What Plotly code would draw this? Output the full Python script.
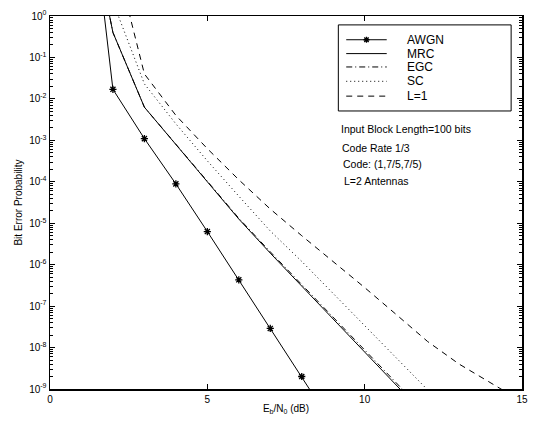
import plotly.graph_objects as go

# ---- data ----
awgn_x = [1.5, 2, 3, 4, 5, 6, 7, 8, 9]
awgn_y = [30, 1.7e-2, 1.1e-3, 8.9e-5, 6.3e-6, 4.3e-7, 2.9e-8, 2.0e-9, 1.3e-10]

mrc_x = [1.5, 2, 3, 4, 5, 6, 7, 8, 9, 10, 11, 12]
mrc_y = [30, 0.4, 6.3e-3, 7.9e-4, 1.0e-4, 1.26e-5, 1.9e-6, 3.0e-7, 4.8e-8, 7.6e-9, 1.2e-9, 2.0e-10]

egc_x = [1.5, 2, 3, 4, 5, 6, 7, 8, 9, 10, 11, 12]
egc_y = [30, 0.4, 6.3e-3, 7.9e-4, 1.0e-4, 1.32e-5, 2.04e-6, 3.3e-7, 5.4e-8, 8.7e-9, 1.4e-9, 2.3e-10]

sc_x = [2, 3, 4, 5, 6, 7, 8, 9, 10, 11, 12, 13]
sc_y = [2.2, 2.3e-2, 2.5e-3, 3.2e-4, 4.5e-5, 6.5e-6, 1.2e-6, 2.0e-7, 3.4e-8, 5.8e-9, 9.5e-10, 1.6e-10]

l1_x = [2.5, 3, 4, 5, 6, 7, 8, 9, 10, 11, 12, 13, 14, 15]
l1_y = [1.3, 4.0e-2, 4.0e-3, 6.3e-4, 1.12e-4, 2.2e-5, 5.0e-6, 1.2e-6, 2.8e-7, 6.3e-8,
        1.4e-8, 4.0e-9, 1.4e-9, 5.0e-10]

series_names = ["AWGN", "MRC", "EGC", "SC", "L=1"]

x_ticks = [0, 5, 10, 15]
x_tick_labels = ["0", "5", "10", "15"]
y_exponents = [-9, -8, -7, -6, -5, -4, -3, -2, -1, 0]
y_tick_labels = ["10<sup>%d</sup>" % e for e in y_exponents]

note_lines = ["Input Block Length=100 bits", "Code Rate 1/3",
              "Code: (1,7/5,7/5)", "L=2 Antennas"]

# ---- layout geometry (pixels) ----
W, H = 537, 422
ML, MR, MT, MB = 50, 9, 13, 32
PW, PH = W - ML - MR, H - MT - MB


def fx(px):
    return (px - ML) / PW


def fy(py):
    return (H - MB - py) / PH


FONT = "Liberation Sans, Arial, Helvetica, sans-serif"
BLACK = "black"
dash_styles = ["solid", "solid", "6px,3px,1px,3px", "1px,3px", "6px,5px"]

fig = go.Figure()

series = [(awgn_x, awgn_y), (mrc_x, mrc_y), (egc_x, egc_y), (sc_x, sc_y), (l1_x, l1_y)]
for i, (xs, ys) in enumerate(series):
    if i == 0:
        fig.add_trace(go.Scatter(
            x=xs, y=ys, name=series_names[i], mode="lines+markers",
            line=dict(color=BLACK, width=1),
            marker=dict(symbol="asterisk-open", size=6, color=BLACK,
                        line=dict(color=BLACK, width=1.3))))
    else:
        fig.add_trace(go.Scatter(
            x=xs, y=ys, name=series_names[i], mode="lines",
            line=dict(color=BLACK, width=1, dash=dash_styles[i])))

minor_vals = [m * 10.0 ** e for e in y_exponents[:-1] for m in range(2, 10)]

fig.update_xaxes(
    range=[0, 15], tickvals=x_ticks, ticktext=x_tick_labels,
    showline=True, linecolor=BLACK, linewidth=1.5, mirror="ticks",
    ticks="inside", ticklen=5, tickcolor=BLACK, showgrid=False, zeroline=False,
    ticklabeloverflow="allow",
    tickfont=dict(family=FONT, size=10, color=BLACK),
    title=dict(text="E<sub>b</sub>/N<sub>0</sub> (dB)", standoff=1,
               font=dict(family=FONT, size=10, color=BLACK)))

fig.update_yaxes(
    type="log", range=[-9, 0],
    tickvals=[10.0 ** e for e in y_exponents], ticktext=y_tick_labels,
    showline=True, linecolor=BLACK, linewidth=1.5, mirror="ticks",
    ticks="inside", ticklen=5, tickcolor=BLACK, showgrid=False, zeroline=False,
    minor=dict(tickvals=minor_vals, ticks="inside", ticklen=3, tickcolor=BLACK,
               showgrid=False),
    tickfont=dict(family=FONT, size=10, color=BLACK),
    title=dict(text="Bit Error Probability", standoff=4,
               font=dict(family=FONT, size=10, color=BLACK)))

# ---- notes ----
note_py = [127, 146, 163, 180]
note_px = [343, 344, 345, 346]
for t, px, py in zip(note_lines, note_px, note_py):
    fig.add_annotation(text=t, xref="paper", yref="paper", x=fx(px), y=fy(py),
                       xanchor="left", yanchor="middle", showarrow=False,
                       font=dict(family=FONT, size=10.5, color=BLACK))

# ---- legend box drawn by hand (MATLAB style) ----
shapes = [dict(type="rect", xref="paper", yref="paper",
               x0=fx(342), x1=fx(517), y0=fy(109), y1=fy(22),
               line=dict(color=BLACK, width=1), fillcolor="white", layer="above")]
leg_py = [37, 51, 64.5, 79, 94]
for i, py in enumerate(leg_py):
    shapes.append(dict(type="line", xref="paper", yref="paper",
                       x0=fx(350), x1=fx(391), y0=fy(py), y1=fy(py),
                       line=dict(color=BLACK, width=1, dash=dash_styles[i]),
                       layer="above"))
    fig.add_annotation(text=series_names[i], xref="paper", yref="paper",
                       x=fx(410), y=fy(py), xanchor="left", yanchor="middle",
                       showarrow=False, font=dict(family=FONT, size=12, color=BLACK))
shapes.append(dict(type="path", xref="paper", yref="paper",
                   xsizemode="pixel", ysizemode="pixel",
                   xanchor=fx(370.5), yanchor=fy(leg_py[0]),
                   path="M-3,0L3,0M0,-3L0,3M-2.2,-2.2L2.2,2.2M-2.2,2.2L2.2,-2.2",
                   line=dict(color=BLACK, width=1.3), layer="above"))

fig.update_layout(
    width=W, height=H,
    margin=dict(l=ML, r=MR, t=MT, b=MB),
    paper_bgcolor="white", plot_bgcolor="white",
    showlegend=False,
    hovermode=False,
    shapes=shapes,
)

fig.write_html("out.html",
               config={"displayModeBar": False, "staticPlot": True},
               post_script="document.body.style.margin='0';"
                           "document.body.style.overflow='hidden';")
